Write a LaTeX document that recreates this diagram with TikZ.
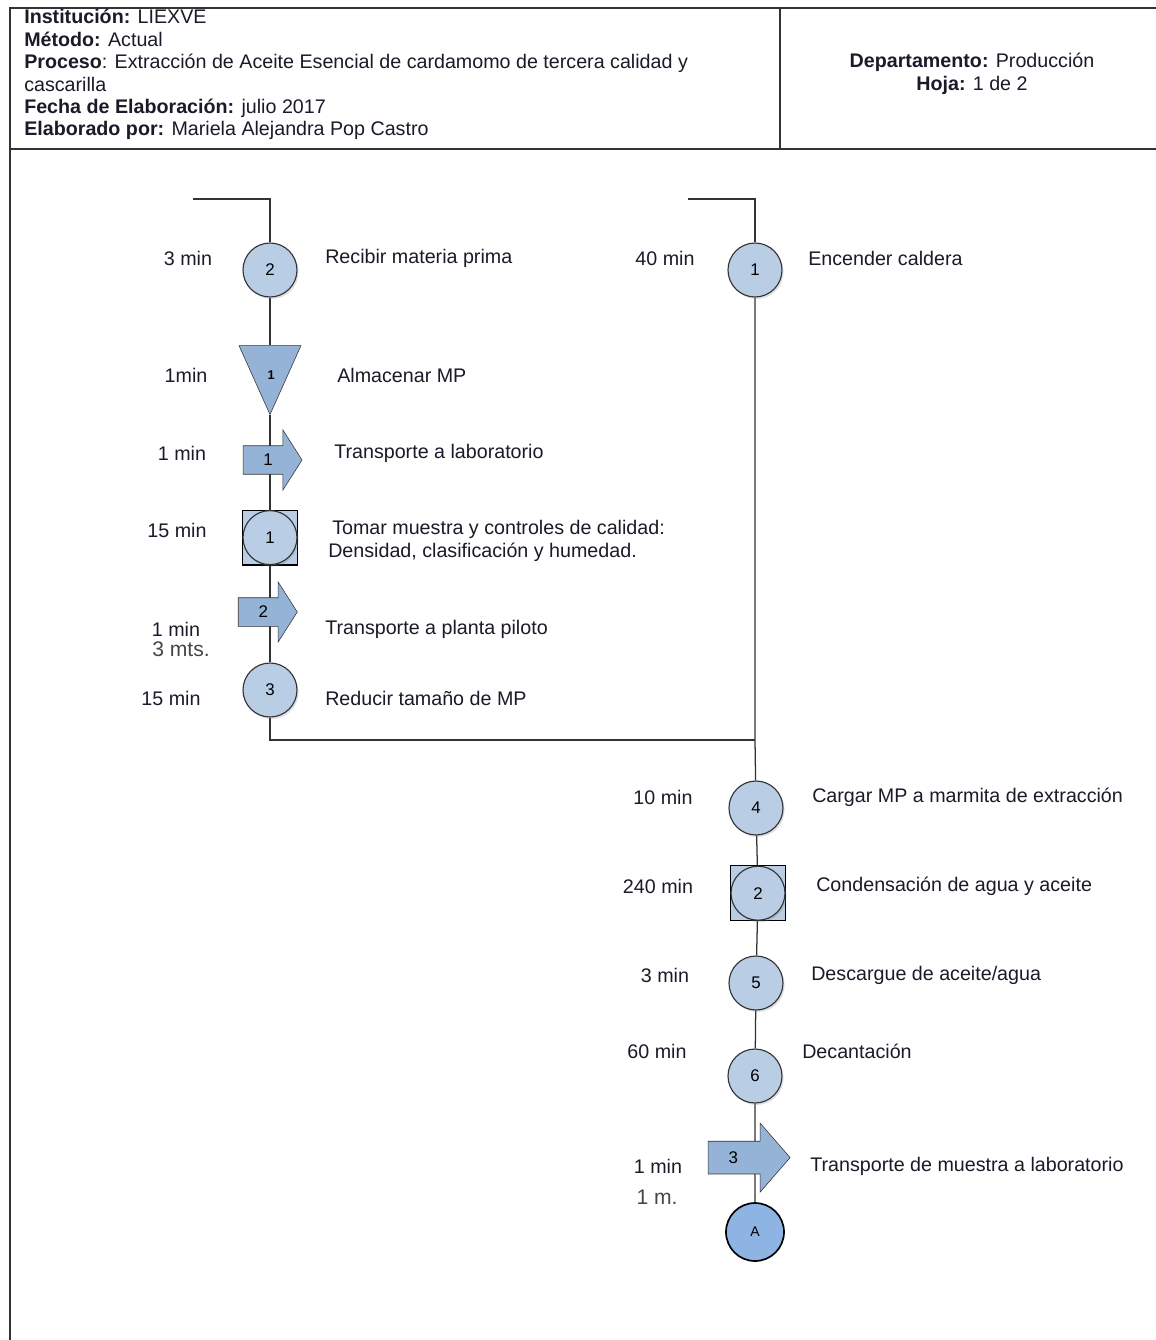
\documentclass[tikz,border=0pt]{standalone}
\usepackage{fontspec}
\setmainfont{Liberation Sans}
\usepackage{tikz}
\usetikzlibrary{shapes.geometric,shapes.arrows,shadows,backgrounds,positioning,calc}
\definecolor{opFill}{RGB}{185,205,229}
\definecolor{moveFill}{RGB}{149,179,215}
\definecolor{conFill}{RGB}{142,180,227}
\definecolor{lineGray}{RGB}{51,51,51}
\definecolor{textDark}{RGB}{26,26,40}
\definecolor{noteGray}{RGB}{70,70,70}

\begin{document}
\begin{tikzpicture}[
      txt/.style={font=\fontsize{14}{16}\selectfont, text=textDark, inner sep=0pt},
      tm/.style={txt},
      act/.style={txt, anchor=west},
      note/.style={font=\fontsize{15}{16}\selectfont, text=noteGray, inner sep=0pt},
      op/.style={circle, draw=lineGray, line width=0.8pt, fill=opFill,
        minimum size=1.35cm, inner sep=0pt, font=\fontsize{12}{13}\selectfont,
        drop shadow={opacity=0.25, shadow xshift=0.04cm, shadow yshift=-0.05cm}},
      insp/.style={rectangle, draw=black, line width=0.8pt, fill=opFill,
        minimum size=1.37cm},
      store/.style={isosceles triangle, isosceles triangle stretches,
        shape border rotate=270, draw=lineGray, fill=moveFill,
        minimum width=1.55cm, minimum height=1.725cm, inner sep=0pt},
      storenum/.style={font=\fontsize{9}{10}\selectfont\bfseries, inner sep=0pt},
      move/.style={single arrow, draw=lineGray, fill=moveFill,
        single arrow head extend=0.39cm, single arrow tip angle=115,
        minimum width=1.5cm, minimum height=1.475cm,
        inner xsep=1pt, inner ysep=0.2cm, font=\fontsize{12}{13}\selectfont},
      con/.style={circle, draw=black, line width=1.2pt, fill=conFill,
        minimum size=1.45cm, inner sep=0pt, font=\fontsize{10}{11}\selectfont},
      flow/.style={lineGray, line width=0.9pt},
      frame/.style={lineGray, line width=1.4pt}
    ]
      \useasboundingbox (0,0) rectangle (28.9,-33.5);

      % Header
      \draw[frame] (28.9,-0.2) -- (0.25,-0.2) -- (0.25,-33.5);
      \draw[frame] (0.25,-3.725) -- (28.9,-3.725);
      \draw[frame] (19.5,-0.2) -- (19.5,-3.725);
      \node[txt, anchor=north west, align=left] (info) at (0.6,-0.22)
        {\textbf{Institución:} LIEXVE\\
         \textbf{Método:} Actual\\
         \textbf{Proceso}: Extracción de Aceite Esencial de cardamomo de tercera calidad y\\
         cascarilla\\
         \textbf{Fecha de Elaboración:} julio 2017\\
         \textbf{Elaborado por:} Mariela Alejandra Pop Castro};
      \node[txt, align=center] (dept) at (24.3,-1.85)
        {\textbf{Departamento:} Producción\\ \textbf{Hoja:} 1 de 2};

      % Left line: materia prima
      \coordinate (lstart) at (4.825,-4.975);
      \node[op] (op2) at (6.75,-6.75) {2};
      \node[tm] (op2t) at (4.7,-6.45) {3 min};
      \node[act] (op2a) at (8.125,-6.45) {Recibir materia prima};

      \node[store] (st1) at (6.75,-9.14) {};
      \node[storenum] (st1n) at (6.78,-9.39) {1};
      \node[tm] (st1t) at (4.65,-9.375) {1min};
      \node[act] (st1a) at (8.425,-9.375) {Almacenar MP};

      \node[move] (tr1) at (6.7,-11.5) {1};
      \node[tm] (tr1t) at (4.55,-11.325) {1 min};
      \node[act] (tr1a) at (8.35,-11.325) {Transporte a laboratorio};

      \node[insp] (in1) at (6.75,-13.44) {};
      \node[op, drop shadow={opacity=0}] (in1c) at (in1) {1};
      \node[tm] (in1t) at (4.425,-13.25) {15 min};
      \node[act, align=left] (in1a) at (8.2,-13.52)
        {\hspace{0.1cm}Tomar muestra y controles de calidad:\\
         Densidad, clasificación y humedad.};

      \node[move] (tr2) at (6.58,-15.3) {2};
      \node[tm] (tr2t) at (4.4,-15.725) {1 min};
      \node[note] (tr2n) at (4.525,-16.225) {3 mts.};
      \node[act] (tr2a) at (8.125,-15.725) {Transporte a planta piloto};

      \node[op] (op3) at (6.75,-17.25) {3};
      \node[tm] (op3t) at (4.275,-17.45) {15 min};
      \node[act] (op3a) at (8.125,-17.45) {Reducir tamaño de MP};

      % Right line: caldera
      \coordinate (rstart) at (17.2,-4.975);
      \node[op] (op1) at (18.875,-6.75) {1};
      \node[tm] (op1t) at (16.625,-6.45) {40 min};
      \node[act] (op1a) at (20.2,-6.45) {Encender caldera};

      \coordinate (join) at (18.875,-18.5);

      \node[op] (op4) at (18.9,-20.2) {4};
      \node[tm] (op4t) at (16.575,-19.925) {10 min};
      \node[act] (op4a) at (20.3,-19.925) {Cargar MP a marmita de extracción};

      \node[insp] (in2) at (18.95,-22.33) {};
      \node[op, drop shadow={opacity=0}] (in2c) at (in2) {2};
      \node[tm] (in2t) at (16.45,-22.15) {240 min};
      \node[act] (in2a) at (20.4,-22.15) {Condensación de agua y aceite};

      \node[op] (op5) at (18.9,-24.575) {5};
      \node[tm] (op5t) at (16.625,-24.375) {3 min};
      \node[act] (op5a) at (20.275,-24.375) {Descargue de aceite/agua};

      \node[op] (op6) at (18.875,-26.9) {6};
      \node[tm] (op6t) at (16.425,-26.275) {60 min};
      \node[act] (op6a) at (20.05,-26.275) {Decantación};

      \node[move, single arrow head extend=0.45cm, single arrow tip angle=98,
        minimum width=1.725cm, minimum height=2.05cm, inner ysep=0.25cm]
        (tr3) at (18.55,-28.94) {\llap{3\hspace{0.1cm}}};
      \node[tm] (tr3t) at (16.45,-29.15) {1 min};
      \node[note] (tr3n) at (16.425,-29.925) {1 m.};
      \node[act] (tr3a) at (20.25,-29.15) {Transporte de muestra a laboratorio};

      \node[con] (conA) at (18.875,-30.8) {A};

      % Connectors
      \begin{scope}[on background layer]
        \draw[flow] (lstart) -| (op2);
        \draw[flow] (op2) -- (st1) -- (in1) -- (op3);
        \draw[flow] (op3) |- (join);
        \draw[flow] (rstart) -| (op1);
        \draw[flow] (op1) -- (join) -- (op4) -- (in2) -- (op5) -- (op6) -- (conA);
      \end{scope}
    \end{tikzpicture}
\end{document}
